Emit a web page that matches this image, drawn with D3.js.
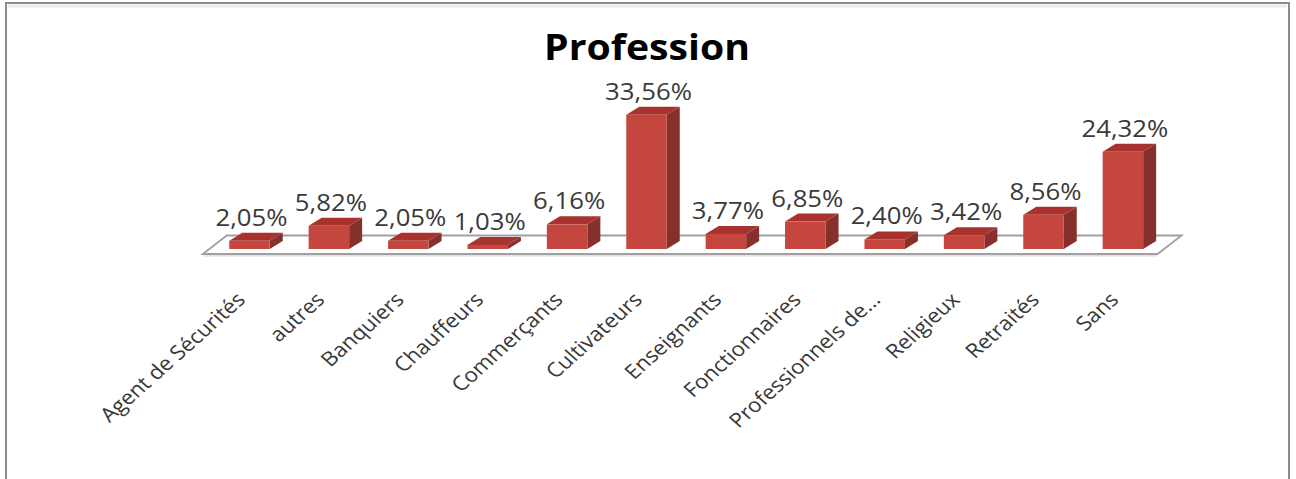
<!DOCTYPE html>
<html lang="fr">
<head>
<meta charset="utf-8">
<title>Profession</title>
<script src="https://cdn.jsdelivr.net/npm/d3@7"></script>
<style>
  html, body { margin: 0; padding: 0; background: #ffffff; }
  svg { display: block; }
</style>
</head>
<body>
<script>
// Répartition par profession (en %)
const categories = [
  "Agent de Sécurités", "autres", "Banquiers", "Chauffeurs", "Commerçants",
  "Cultivateurs", "Enseignants", "Fonctionnaires", "Professionnels de...",
  "Religieux", "Retraités", "Sans"
];
const values = [2.05, 5.82, 2.05, 1.03, 6.16, 33.56, 3.77, 6.85, 2.40, 3.42, 8.56, 24.32];
const titleText = "Profession";

const W = 1296, H = 479;
const svg = d3.select("body").append("svg").attr("width", W).attr("height", H);

// Chart frame
svg.append("rect")
  .attr("x", 6).attr("y", 3).attr("width", 1283).attr("height", 500)
  .attr("fill", "#fff").attr("stroke", "#8c8c8c").attr("stroke-width", 2);
svg.append("line")
  .attr("x1", 8).attr("x2", 1287).attr("y1", 6).attr("y2", 6)
  .attr("stroke", "#ececec").attr("stroke-width", 3);

// Scales
const x = d3.scaleBand()
  .domain(categories)
  .range([209.8, 209.8 + 12 * 79.4])
  .paddingInner(0.49)
  .paddingOuter(0.245);
const y = d3.scaleLinear().domain([0, 35]).range([249, 109]);

// 3-D depth of each column and of the floor
const dx = 13, dy = -8;
const floorFront = 254, floorBack = 235.5, floorSlant = 24;
const floorLeft = x.range()[0] - 7, floorRight = x.range()[1] - 5;

const sx = 1.12; // horizontal stretch of all text

// Floor
svg.append("polygon")
  .attr("points", [
    [floorLeft, floorFront], [floorRight, floorFront],
    [floorRight + floorSlant, floorBack], [floorLeft + floorSlant, floorBack]
  ].map(p => p.join(",")).join(" "))
  .attr("fill", "#ffffff").attr("stroke", "#a0a0a0").attr("stroke-width", 1.8);
svg.append("line")
  .attr("x1", floorLeft + 1).attr("x2", floorRight).attr("y1", floorFront + 1.8).attr("y2", floorFront + 1.8)
  .attr("stroke", "#d9d9d9").attr("stroke-width", 1.2);

// Columns
const bars = svg.append("g").selectAll("g")
  .data(categories.map((c, i) => ({ c, v: values[i] })))
  .join("g");

const frontColor = "#c4463f", topColor = "#a7322e", sideColor = "#86302c";

bars.append("polygon") // side face
  .attr("points", d => {
    const x1 = x(d.c) + x.bandwidth(), y0 = y(0), y1 = y(d.v);
    return [[x1, y0], [x1 + dx, y0 + dy], [x1 + dx, y1 + dy], [x1, y1]].map(p => p.join(",")).join(" ");
  })
  .attr("fill", sideColor);

bars.append("polygon") // top face
  .attr("points", d => {
    const x0 = x(d.c), x1 = x0 + x.bandwidth(), y1 = y(d.v);
    return [[x0, y1], [x1, y1], [x1 + dx, y1 + dy], [x0 + dx, y1 + dy]].map(p => p.join(",")).join(" ");
  })
  .attr("fill", topColor);

bars.append("rect") // front face
  .attr("x", d => x(d.c))
  .attr("y", d => y(d.v))
  .attr("width", x.bandwidth())
  .attr("height", d => y(0) - y(d.v))
  .attr("fill", frontColor);

// Value labels
const fmt = v => d3.format(".2f")(v).replace(".", ",") + "%";
bars.append("text")
  .attr("transform", d => `translate(${x(d.c) + x.bandwidth() / 2 + 2},${y(d.v) - 15}) scale(${sx},1)`)
  .attr("text-anchor", "middle")
  .attr("font-family", "'Open Sans', sans-serif")
  .attr("font-size", 23)
  .attr("fill", "#3a3a3a")
  .text(d => fmt(d.v));

// Category axis
const axis = svg.append("g")
  .attr("transform", "translate(0,301)")
  .call(d3.axisBottom(x).tickSize(0).tickPadding(0));
axis.select(".domain").remove();
axis.selectAll("text")
  .attr("x", 0).attr("y", 0).attr("dy", 0)
  .attr("text-anchor", "end")
  .attr("transform", `translate(-3,0) scale(${sx},1) rotate(-45)`)
  .attr("font-family", "'Open Sans', sans-serif")
  .attr("font-size", 20)
  .attr("fill", "#383838");

// Title
svg.append("text")
  .attr("transform", `translate(647,60) scale(${sx},1)`)
  .attr("text-anchor", "middle")
  .attr("font-family", "'Open Sans', sans-serif")
  .attr("font-weight", 700)
  .attr("font-size", 35)
  .attr("fill", "#000")
  .text(titleText);
</script>
</body>
</html>
